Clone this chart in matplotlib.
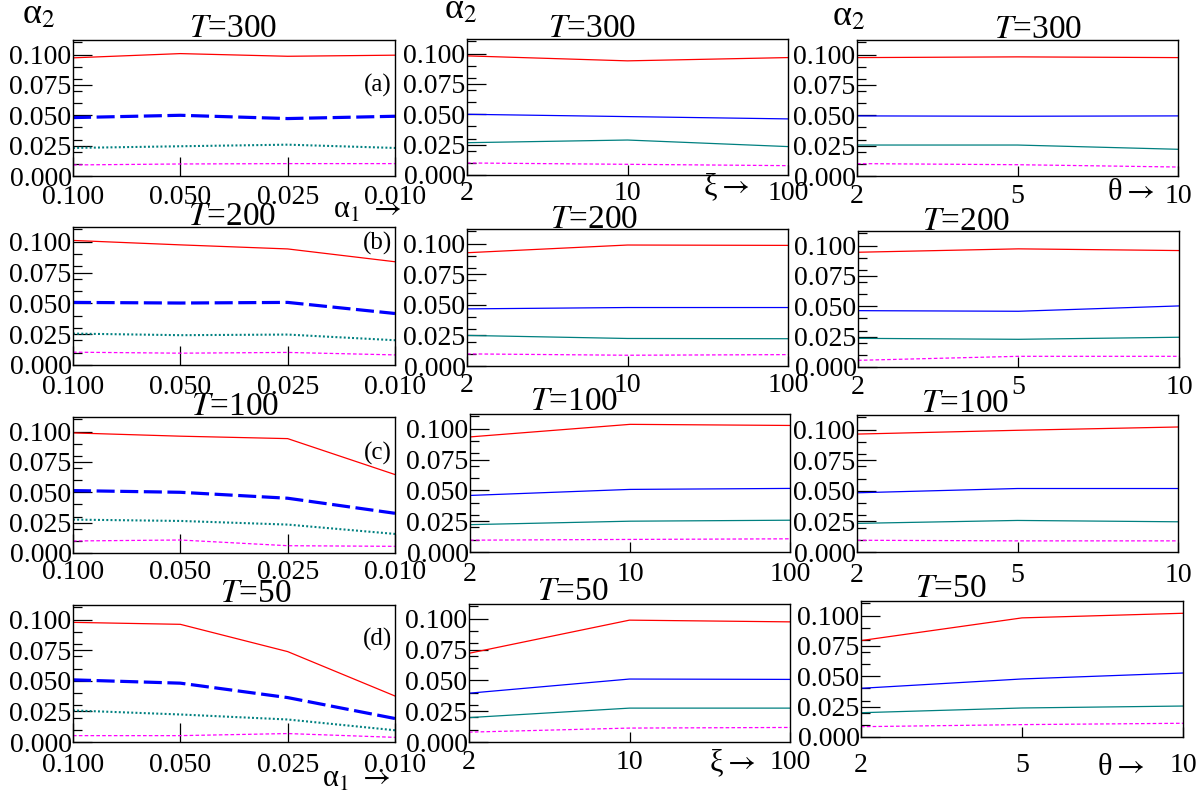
import matplotlib
matplotlib.use('Agg')
import matplotlib.pyplot as plt
from matplotlib.ticker import FixedLocator

plt.rcParams['font.family'] = ['Liberation Serif', 'DejaVu Serif']
plt.rcParams['mathtext.fontset'] = 'stix'
plt.rcParams['lines.scale_dashes'] = False

W, H = 1197, 795

# ---------------- data ----------------
temps = [300, 200, 100, 50]
alpha1_labels = ['0.100', '0.050', '0.025', '0.010']
xi_labels = ['2', '10', '100']
theta_labels = ['2', '5', '10']

# column 1: x = alpha_1 ; rows T=300,200,100,50
red_alpha1 = [[0.0973, 0.1008, 0.0986, 0.0995],
              [0.1011, 0.0975, 0.0942, 0.0838],
              [0.0989, 0.0962, 0.0942, 0.0646],
              [0.0978, 0.0962, 0.0739, 0.0376]]
blue_alpha1 = [[0.0481, 0.0500, 0.0473, 0.0492],
               [0.0508, 0.0503, 0.0508, 0.0418],
               [0.0514, 0.0500, 0.0451, 0.0327],
               [0.0508, 0.0481, 0.0363, 0.0192]]
teal_alpha1 = [[0.0231, 0.0245, 0.0258, 0.0231],
               [0.0255, 0.0242, 0.0247, 0.0201],
               [0.0275, 0.0264, 0.0234, 0.0157],
               [0.0258, 0.0225, 0.0184, 0.0096]]
magenta_alpha1 = [[0.0091, 0.0099, 0.0102, 0.0102],
                  [0.0104, 0.0096, 0.0102, 0.0082],
                  [0.0099, 0.0107, 0.0060, 0.0055],
                  [0.0052, 0.0052, 0.0069, 0.0038]]

# column 2: x = xi
red_xi = [[0.0981, 0.0940, 0.0967],
          [0.0926, 0.0989, 0.0986],
          [0.0934, 0.1036, 0.1027],
          [0.0720, 0.0989, 0.0975]]
blue_xi = [[0.0500, 0.0481, 0.0462],
           [0.0467, 0.0478, 0.0478],
           [0.0459, 0.0508, 0.0516],
           [0.0396, 0.0511, 0.0508]]
teal_xi = [[0.0266, 0.0288, 0.0234],
           [0.0250, 0.0225, 0.0223],
           [0.0222, 0.0250, 0.0258],
           [0.0198, 0.0275, 0.0275]]
magenta_xi = [[0.0099, 0.0088, 0.0077],
              [0.0099, 0.0088, 0.0093],
              [0.0096, 0.0102, 0.0107],
              [0.0080, 0.0113, 0.0118]]

# column 3: x = theta
red_theta = [[0.0975, 0.0981, 0.0975],
             [0.0945, 0.0973, 0.0959],
             [0.0964, 0.0995, 0.1022],
             [0.0794, 0.0981, 0.1019]]
blue_theta = [[0.0495, 0.0492, 0.0495],
              [0.0464, 0.0459, 0.0503],
              [0.0484, 0.0519, 0.0519],
              [0.0401, 0.0478, 0.0527]]
teal_theta = [[0.0255, 0.0255, 0.0220],
              [0.0236, 0.0228, 0.0245],
              [0.0234, 0.0258, 0.0247],
              [0.0200, 0.0239, 0.0255]]
magenta_theta = [[0.0102, 0.0093, 0.0074],
                 [0.0055, 0.0088, 0.0088],
                 [0.0096, 0.0091, 0.0091],
                 [0.0085, 0.0102, 0.0113]]

panel_tags = ['(a)', '(b)', '(c)', '(d)']

# ---------------- layout (pixels) ----------------
boxes = [  # left, top, right, bottom
    [(73, 40, 395, 176), (467, 39, 788, 175), (857, 40, 1178, 176)],
    [(73, 227, 395, 365), (467, 229, 788, 366), (858, 231, 1179, 367)],
    [(73, 417, 395, 553), (470, 414, 790, 552), (857, 415, 1178, 552)],
    [(73, 605, 395, 742), (469, 604, 790, 742), (861, 601, 1183, 737)],
]
xlab_pad = [[9, 6, 8], [10, 7, 8], [7, 10, 11], [11, 8, 16]]
title_pos = [[(233, 37), (592, 37), (1038, 38)],
             [(232, 225), (594, 228), (966, 230)],
             [(235, 415), (574, 410), (965, 412)],
             [(256, 602), (573, 600), (951, 597)]]
tag_pos = [(392, 85), (392, 243), (392, 453), (392, 639)]

RED, BLUE, TEAL, MAG = '#ff0000', '#0000ff', '#008080', '#ff00ff'
PT = 72.0 / 100.0  # pixels -> points at dpi 100

fig = plt.figure(figsize=(W / 100, H / 100), dpi=100)


def make_ax(box):
    l, t, r, b = box
    return fig.add_axes([l / W, 1 - b / H, (r - l) / W, (b - t) / H])


columns = [
    (alpha1_labels, red_alpha1, blue_alpha1, teal_alpha1, magenta_alpha1),
    (xi_labels, red_xi, blue_xi, teal_xi, magenta_xi),
    (theta_labels, red_theta, blue_theta, teal_theta, magenta_theta),
]

for i in range(4):
    for j in range(3):
        labels, rd, bl, tl, mg = columns[j]
        ax = make_ax(boxes[i][j])
        x = list(range(len(labels)))
        if j == 0:
            ax.plot(x, rd[i], color=RED, lw=0.9)
            ax.plot(x, bl[i], color=BLUE, lw=2.3, dashes=(13, 4))
            ax.plot(x, tl[i], color=TEAL, lw=1.5, dashes=(1.4, 1.6))
            ax.plot(x, mg[i], color=MAG, lw=0.9, dashes=(2.6, 1.6))
        else:
            ax.plot(x, rd[i], color=RED, lw=0.9)
            ax.plot(x, bl[i], color=BLUE, lw=0.9)
            ax.plot(x, tl[i], color=TEAL, lw=0.9)
            ax.plot(x, mg[i], color=MAG, lw=0.9, dashes=(2.6, 1.6))
        ax.set_xlim(0, len(labels) - 1)
        ax.set_ylim(0, 0.112)
        ax.set_xticks(x)
        ax.set_xticklabels(labels)
        ax.set_yticks([0, 0.025, 0.05, 0.075, 0.1])
        ax.set_yticklabels(['0.000', '0.025', '0.050', '0.075', '0.100'])
        ax.yaxis.set_minor_locator(FixedLocator([0.01 * k for k in range(1, 12)]))
        xlen = 19 if j == 0 else 10
        ax.tick_params(axis='x', which='major', direction='in', length=xlen * PT,
                       width=0.9, labelsize=20, pad=xlab_pad[i][j] * PT,
                       top=False)
        ax.tick_params(axis='y', which='major', direction='in', length=19 * PT,
                       width=0.9, labelsize=20, pad=1, right=False)
        ax.tick_params(axis='y', which='minor', direction='in', length=9 * PT,
                       width=0.9, right=False)
        for s in ax.spines.values():
            s.set_linewidth(1.0)
        tx, ty = title_pos[i][j]
        fig.text(tx / W, 1 - ty / H, r'$T$=%d' % temps[i], fontsize=24,
                 ha='center', va='baseline')
        if j == 0:
            px, py = tag_pos[i]
            fig.text(px / W, 1 - py / H, panel_tags[i], fontsize=18,
                     ha='right', va='center')

# alpha_2 labels above first row
for (ax_, ay_) in [(22, 23), (444, 18), (832, 25)]:
    fig.text(ax_ / W, 1 - ay_ / H, r'α$_2$', fontsize=26,
             ha='left', va='baseline')

# axis-direction labels
ARROW = r'$\rightarrow$'
fig.text(333 / W, 1 - 218 / H, r'α$_1$ ' + ARROW, fontsize=22,
         ha='left', va='baseline')
fig.text(322 / W, 1 - 787 / H, r'α$_1$ ' + ARROW, fontsize=22,
         ha='left', va='baseline')
fig.text(703 / W, 1 - 195 / H, r'ξ' + ARROW, fontsize=22,
         ha='left', va='baseline')
fig.text(709 / W, 1 - 771 / H, r'ξ' + ARROW, fontsize=22,
         ha='left', va='baseline')
fig.text(1107 / W, 1 - 200 / H, r'θ' + ARROW, fontsize=22,
         ha='left', va='baseline')
fig.text(1097 / W, 1 - 775 / H, r'θ' + ARROW, fontsize=22,
         ha='left', va='baseline')

fig.savefig('out.png', dpi=100)
